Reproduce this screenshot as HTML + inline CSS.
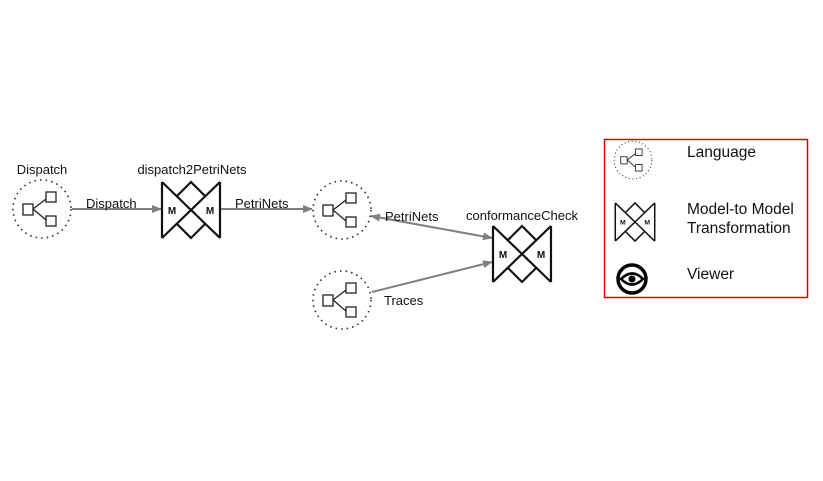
<!DOCTYPE html>
<html><head><meta charset="utf-8"><style>
html,body{margin:0;padding:0;background:#fff;}
svg{display:block;font-family:"Liberation Sans",sans-serif;}
</style></head><body>
<svg width="823" height="481" viewBox="0 0 823 481" xmlns="http://www.w3.org/2000/svg">
<defs>
<marker id="ah" markerWidth="10" markerHeight="8" refX="9" refY="4" orient="auto" markerUnits="userSpaceOnUse">
<path d="M0,0 L10,4 L0,8 Z" fill="#808080"/>
</marker>
<marker id="as" markerWidth="10" markerHeight="8" refX="1" refY="4" orient="auto" markerUnits="userSpaceOnUse">
<path d="M10,0 L0,4 L10,8 Z" fill="#808080"/>
</marker>
<g id="lang">
<circle r="29" fill="none" stroke="#333" stroke-width="1.6" stroke-dasharray="1.6,4"/>
<rect x="-19" y="-5" width="10" height="11" fill="#fff" stroke="#222" stroke-width="1.3"/>
<rect x="4" y="-17" width="10" height="10" fill="#fff" stroke="#222" stroke-width="1.3"/>
<rect x="4" y="7" width="10" height="10" fill="#fff" stroke="#222" stroke-width="1.3"/>
<path d="M-9,0 L4,-10 M-9,0 L4,11" stroke="#222" stroke-width="1.3" fill="none"/>
</g>
<g id="mm">
<path d="M-29,-28 L-29,28 M29,-28 L29,28 M-29,-28 L29,28 M29,-28 L-29,28 M-14,-14 L0,-28 L14,-14 M-14,14 L0,28 L14,14" stroke="#111" stroke-width="2.2" fill="none"/>
<text x="-19" y="4" font-size="10" font-weight="bold" text-anchor="middle" fill="#111">M</text>
<text x="19" y="4" font-size="10" font-weight="bold" text-anchor="middle" fill="#111">M</text>
</g>
</defs>

<g stroke="#808080" stroke-width="2" fill="none">
<line x1="72" y1="209" x2="161" y2="209" marker-end="url(#ah)"/>
<line x1="221" y1="209" x2="312" y2="209" marker-end="url(#ah)"/>
<line x1="371" y1="216" x2="492" y2="238" marker-start="url(#as)" marker-end="url(#ah)"/>
<line x1="372" y1="292" x2="492" y2="262" marker-end="url(#ah)"/>
</g>

<use href="#lang" x="42" y="209"/>
<use href="#lang" x="342" y="210"/>
<use href="#lang" x="342" y="300"/>
<use href="#mm" x="191" y="210"/>
<use href="#mm" x="522" y="254"/>

<g font-size="13" fill="#111">
<text x="42" y="174" text-anchor="middle">Dispatch</text>
<text x="192" y="174" text-anchor="middle">dispatch2PetriNets</text>
<text x="522" y="220" text-anchor="middle">conformanceCheck</text>
<text x="86" y="208">Dispatch</text>
<text x="235" y="208">PetriNets</text>
<text x="385" y="221">PetriNets</text>
<text x="384" y="305">Traces</text>
</g>

<rect x="604.5" y="139.5" width="203" height="158" fill="none" stroke="#d00" stroke-width="1.5"/>
<g transform="translate(633,160) scale(0.65)"><use href="#lang"/></g>
<g transform="translate(635,222) scale(0.68)">
<path d="M-29,-28 L-29,28 M29,-28 L29,28 M-29,-28 L29,28 M29,-28 L-29,28 M-14,-14 L0,-28 L14,-14 M-14,14 L0,28 L14,14" stroke="#111" stroke-width="2.2" fill="none"/>
<text x="-18" y="4" font-size="10" font-weight="bold" text-anchor="middle" fill="#111">M</text>
<text x="18" y="4" font-size="10" font-weight="bold" text-anchor="middle" fill="#111">M</text>
</g>
<circle cx="632" cy="279" r="14" fill="none" stroke="#000" stroke-width="3.5"/>
<path d="M621,279 Q632,268 643,279 Q632,290 621,279 Z" fill="none" stroke="#000" stroke-width="2.5"/>
<circle cx="632" cy="279" r="3.5" fill="#000"/>
<g font-size="15.5" fill="#111">
<text x="687" y="157">Language</text>
<text x="687" y="214">Model-to Model</text>
<text x="687" y="233">Transformation</text>
<text x="687" y="279">Viewer</text>
</g>
</svg>
</body></html>
